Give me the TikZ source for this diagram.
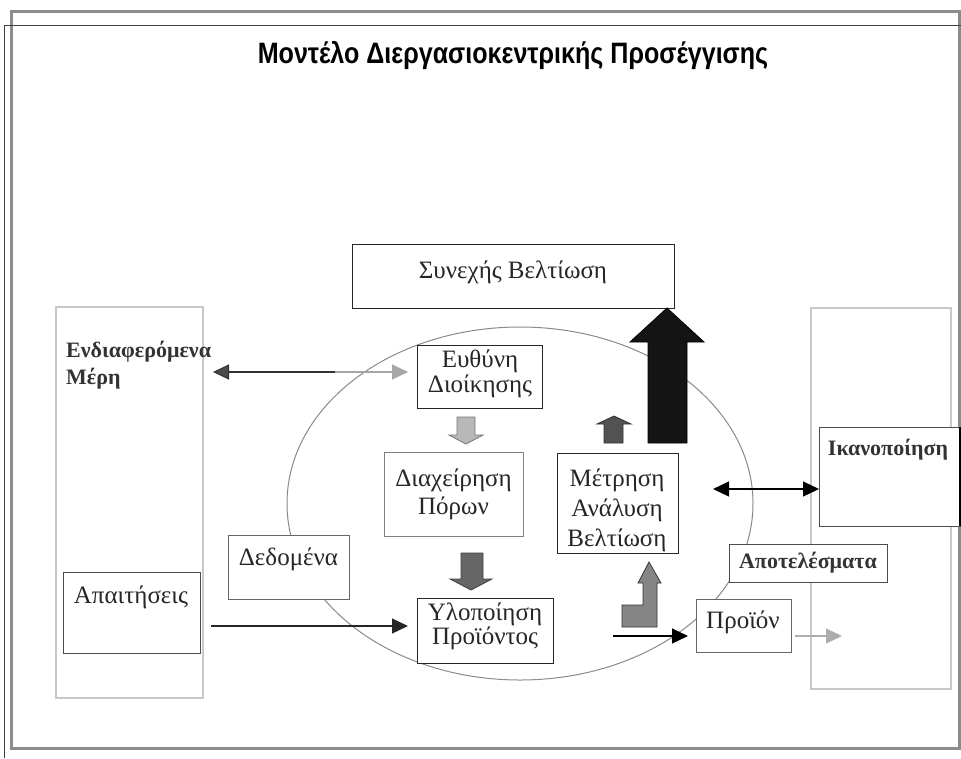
\documentclass[tikz,border=0pt]{standalone}
\usepackage{fontspec}
\setmainfont{Liberation Serif}
\newfontfamily\titlefont[FakeStretch=0.85]{Liberation Sans}
\usetikzlibrary{arrows.meta,calc}

\definecolor{framegray}{HTML}{8C8C8C}
\definecolor{paleline}{HTML}{C8C8C8}
\definecolor{ringgray}{HTML}{8A8A8A}

\begin{document}
\begin{tikzpicture}[x=1pt,y=-1pt,
  box/.style={draw=#1, fill=white, line width=1pt, inner sep=0pt, outer sep=0pt, anchor=north west},
  box/.default={black!85},
  panel/.style={draw=paleline, line width=1.3pt, inner sep=0pt, outer sep=0pt, anchor=north west},
  txt/.style={font=\fontsize{25}{28}\selectfont, align=center, inner sep=0pt, text=black!85},
  boldtxt/.style={font=\fontsize{22}{27}\selectfont\bfseries, inner sep=0pt, text=black!80},
  conn/.style={line width=1.1pt, draw=black, -{Triangle[length=16pt,width=15pt]}},
  blockarrow/.style={line width=0.8pt, line join=miter}
]
\useasboundingbox (0,0) rectangle (961,758);

% page frames
\draw[framegray, line width=3pt] (11.5,11.5) rectangle (959.5,748.5);
\draw[black!75, line width=1pt] (961,25) -- (4,25) -- (4,758);

% title
\node[font=\titlefont\bfseries\fontsize{29.5}{32}\selectfont, inner sep=0pt] (title) at (513,55)
  {Μοντέλο Διεργασιοκεντρικής Προσέγγισης};

% side panels
\node[panel, minimum width=147pt, minimum height=391pt] (lcont) at (56,307) {};
\node[panel, minimum width=140pt, minimum height=381pt] (rcont) at (811,308) {};

% process ring
\draw[ringgray, line width=1pt] (520,503.5) ellipse [x radius=233, y radius=176.5];

% boxes
\node[box, minimum width=322pt, minimum height=64pt] (synex) at (352,244) {};
\node[box, minimum width=125pt, minimum height=63pt] (eythyni) at (417,345) {};
\node[box=black!50, minimum width=139pt, minimum height=84pt] (diax) at (384,452) {};
\node[box, minimum width=121pt, minimum height=100pt] (metr) at (557,453) {};
\node[box, minimum width=136pt, minimum height=65pt] (ylop) at (417,598) {};
\node[box=black!70, minimum width=137pt, minimum height=81pt] (apait) at (63,572) {};
\node[box=black!60, minimum width=121pt, minimum height=64pt] (dedom) at (228,535) {};
\node[box=black!60, minimum width=95pt, minimum height=53pt] (proion) at (696,599) {};
\node[box=black!70, minimum width=158pt, minimum height=38pt] (apotel) at (729,544) {};
\node[box=black!70, minimum width=141pt, minimum height=99pt] (ikan) at (819,427) {};
\draw[black, line width=2pt] (ikan.north east) -- (ikan.south east);

% texts
\node[txt] at (513,272) {Συνεχής Βελτίωση};
\node[txt, font=\fontsize{25}{25}\selectfont] at (480,374) {Ευθύνη\\Διοίκησης};
\node[txt, font=\fontsize{25}{28}\selectfont] at (453.5,494) {Διαχείρηση\\Πόρων};
\node[txt, font=\fontsize{25}{30}\selectfont] at (617,510) {Μέτρηση\\Ανάλυση\\Βελτίωση};
\node[txt, font=\fontsize{25}{24}\selectfont] at (485,626) {Υλοποίηση\\Προϊόντος};
\node[txt] at (131,597) {Απαιτήσεις};
\node[txt] at (288.5,559) {Δεδομένα};
\node[txt] at (743,622) {Προϊόν};
\node[boldtxt] at (808,563) {Αποτελέσματα};
\node[boldtxt] at (888,450) {Ικανοποίηση};
\node[boldtxt, align=left, anchor=north west] at (66,341) {Ενδιαφερόμενα\\Μέρη};

% block arrows
\filldraw[blockarrow, fill=black!92, draw=black] (648,443) -- (648,342) -- (630,342) -- (667,308)
  -- (704,342) -- (687,342) -- (687,443) -- cycle;
\filldraw[blockarrow, fill=black!68, draw=black!80] (604,443) -- (604,424) -- (597,424) -- (614,416)
  -- (631,424) -- (623,424) -- (623,443) -- cycle;
\filldraw[blockarrow, fill=black!28, draw=black!55] (457,417) -- (475,417) -- (475,435) -- (483,435)
  -- (466,444) -- (449,435) -- (457,435) -- cycle;
\filldraw[blockarrow, fill=black!60, draw=black!75] (461,553) -- (483,553) -- (483,579) -- (492,579)
  -- (471,590) -- (450,579) -- (461,579) -- cycle;
\filldraw[blockarrow, fill=black!48, draw=black!80] (622,605) -- (643,605) -- (643,583) -- (638,583)
  -- (649,562) -- (661,583) -- (657,583) -- (657,627) -- (622,627) -- cycle;

% connectors
\coordinate (stkMid) at (335,372);
\draw[line width=1.2pt, black!80, {Triangle[length=16pt,width=15pt,fill=black!70]}-]
  ($(lcont.east |- eythyni.west)+(10,-4.5)$) -- (stkMid);
\draw[line width=1.2pt, black!35, -{Triangle[length=16pt,width=15pt]}, shorten >=9pt]
  (stkMid) -- ($(eythyni.west)+(0,-4.5)$);
\draw[conn, black!85, shorten >=9pt] ($(apait.east |- ylop.west)+(11,-4.5)$) -- ($(ylop.west)+(0,-4.5)$);
\coordinate (prodIn) at (613,636);
\draw[conn, shorten >=8pt] (prodIn) -- ($(proion.west)+(0,10.5)$);
\coordinate (prodOut) at (842,636);
\draw[conn, draw=black!32] ($(proion.east)+(4,10.5)$) -- (prodOut);
\draw[conn, {Triangle[length=16pt,width=15pt]}-{Triangle[length=16pt,width=15pt]}]
  ($(metr.east)+(35,-14)$) -- ($(ikan.west)+(0,12.5)$);
\end{tikzpicture}
\end{document}
